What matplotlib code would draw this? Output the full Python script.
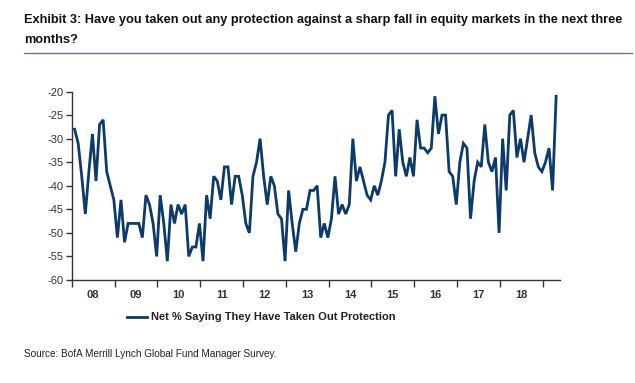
import numpy as np
import matplotlib
matplotlib.use("Agg")
import matplotlib.pyplot as plt
from matplotlib.lines import Line2D

# monthly net % saying they have taken out protection, Jan 2008 onwards
y2008 = [-28, -31, -38, -46, -37, -29, -39, -27, -26, -37, -40, -43]
y2009 = [-51, -43, -52, -48, -48, -48, -48, -51, -42, -44, -48, -55]
y2010 = [-42, -48, -56, -44, -48, -44, -46, -44, -55, -53, -53, -48]
y2011 = [-56, -42, -47, -38, -39, -43, -36, -36, -44, -38, -38, -42]
y2012 = [-48, -50, -38, -35, -30, -38, -44, -38, -40, -46, -47, -56]
y2013 = [-41, -48, -54, -48, -45, -45, -41, -41, -40, -51, -48, -51]
y2014 = [-47, -38, -46, -44, -46, -44, -30, -39, -36, -39, -42, -43]
y2015 = [-40, -42, -39, -35, -25, -24, -38, -28, -35, -38, -34, -38]
y2016 = [-26, -32, -32, -33, -32, -21, -29, -25, -25, -37, -38, -44]
y2017 = [-35, -31, -32, -47, -39, -35, -36, -27, -35, -37, -34, -50]
y2018 = [-30, -41, -25, -24, -34, -30, -35, -30, -25, -33, -36, -37]
y2019 = [-35, -32, -41, -21]

values = (y2008 + y2009 + y2010 + y2011 + y2012 + y2013 + y2014 +
          y2015 + y2016 + y2017 + y2018 + y2019)
year_labels = ["08", "09", "10", "11", "12", "13", "14", "15", "16", "17", "18"]

months = np.arange(len(values)) + 0.8

body_font = ["Liberation Sans", "DejaVu Sans"]

fig = plt.figure(figsize=(6.35, 3.83), dpi=100)
ax = fig.add_axes([0.113, 0.269, 0.769, 0.492])

navy = "#0c3a6b"
ax.plot(months, values, color=navy, lw=2.0, solid_joinstyle="miter")

ax.set_ylim(-60, -20)
ax.set_xlim(0, 136.9)
ax.set_yticks(np.arange(-60, -19, 5))
ax.set_yticklabels([str(v) for v in range(-60, -19, 5)], family=body_font,
                   fontsize=8, color="#333333")

ax.set_xticks(np.arange(0, 133, 12))
ax.set_xticklabels([])
ax.set_xticks(np.arange(6, 132, 12), minor=True)
ax.set_xticklabels(year_labels, minor=True, family=body_font, fontsize=8,
                   fontweight="bold", color="#333333")
ax.tick_params(axis="x", which="major", length=5, width=1, color="#333333")
ax.tick_params(axis="x", which="minor", length=0, pad=7)
ax.tick_params(axis="y", length=4, width=1, color="#333333", pad=2)

for s in ["top", "right"]:
    ax.spines[s].set_visible(False)
for s in ["left", "bottom"]:
    ax.spines[s].set_color("#333333")
    ax.spines[s].set_linewidth(1)

# title
fig.text(0.038, 0.947, "Exhibit 3: Have you taken out any protection against a sharp fall in equity markets in the next three",
         family=body_font, fontsize=9.2, fontweight="bold", color="#111111", va="center")
fig.text(0.038, 0.895, "months?", family=body_font, fontsize=9.2,
         fontweight="bold", color="#111111", va="center")
fig.add_artist(Line2D([0.038, 0.995], [0.862, 0.862], color="#6b7a8f", lw=1))

# legend
fig.add_artist(Line2D([0.2, 0.232], [0.173, 0.173], color=navy, lw=2.0))
fig.text(0.238, 0.173, "Net % Saying They Have Taken Out Protection",
         family=body_font, fontsize=8, fontweight="bold", color="#222222",
         va="center")

# source
fig.text(0.038, 0.077, "Source: BofA Merrill Lynch Global Fund Manager Survey.",
         family=body_font, fontsize=7.2, color="#222222", va="center")

fig.savefig("out.png", dpi=100)
